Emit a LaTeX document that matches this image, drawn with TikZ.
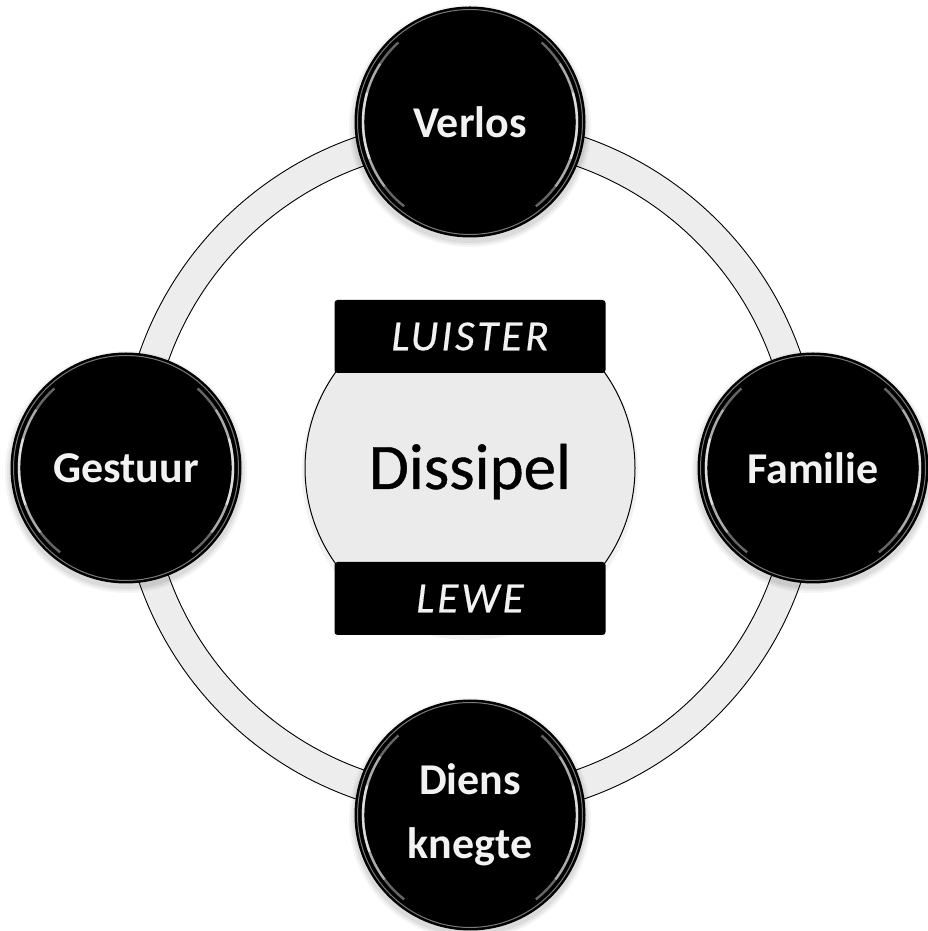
\documentclass[tikz,border=0pt]{standalone}
\usepackage{fontspec}
\setmainfont{Carlito}
\definecolor{textwhite}{HTML}{F2F2F2}
\definecolor{ringfill}{HTML}{EDEDED}
\definecolor{discfill}{HTML}{EBEBEB}
\definecolor{rimgray}{HTML}{7A7A7A}
\tikzset{
  ball/.style={circle, fill=black, draw=black, line width=1pt, minimum size=230pt,
    inner sep=0pt, text=textwhite, align=center,
    font=\bfseries\fontsize{44}{64}\selectfont},
  band/.style={rectangle, fill=black, rounded corners=3pt, minimum width=271pt,
    minimum height=73pt, inner sep=0pt, text=textwhite,
    font=\itshape\fontsize{43}{48}\selectfont\addfontfeature{LetterSpace=7,FakeBold=0.4}},
  ringline/.style={draw=black, line width=0.9pt},
  rim/.style={draw=rimgray, line width=1pt},
  shine/.style={draw=white, line width=2.4pt},
}
\newcommand{\ballshadow}[1]{%
  \foreach \k/\o in {6/0.04,4/0.05,2/0.06}{%
    \fill[black, opacity=\o] ([yshift=-4pt]#1) circle (115pt+\k pt);
  }%
}
\newcommand{\glossball}[1]{%
  \draw[rim] (#1.center) circle (112.5pt);
  \foreach \a/\o in {50/0.4,35/0.45,18/0.6}{%
    \draw[shine, opacity=\o] ([shift={(182-\a:107pt)}]#1.center)
      arc[start angle=182-\a, end angle=182+\a, radius=107pt];
    \draw[shine, opacity=\o] ([shift={(-2-\a:107pt)}]#1.center)
      arc[start angle=-2-\a, end angle=-2+\a, radius=107pt];
  }%
}
\begin{document}
\begin{tikzpicture}[x=1pt,y=1pt]
\useasboundingbox (0,0) rectangle (928,931);
\coordinate (C) at (470,463);
\coordinate (pV) at (470,809);
\coordinate (pG) at (126,463);
\coordinate (pF) at (813,463);
\coordinate (pD) at (470,116);
% ring
\path[fill=ringfill, even odd rule] (C) circle (350pt) (C) circle (320pt);
\draw[ringline] (C) circle (350pt);
\draw[ringline] (C) circle (320pt);
% central disc
\fill[black, opacity=0.05] ([yshift=-4pt]C) circle (168pt);
\node[circle, minimum size=330pt, inner sep=0pt, fill=discfill, draw=black, line width=1pt] (disc) at (C) {};
\node[font=\fontsize{65}{70}\selectfont\addfontfeature{FakeBold=0.6}, anchor=base] (dissipel) at (470,442) {Dissipel};
\node[band] (luister) at (470,594.5) {LUISTER};
\node[band] (lewe) at (470,332.5) {LEWE};
% outer balls
\ballshadow{pV}
\ballshadow{pG}
\ballshadow{pF}
\ballshadow{pD}
\node[ball] (verlos) at (pV) {Verlos};
\node[ball] (gestuur) at (pG) {Gestuur};
\node[ball] (familie) at (pF) {Familie};
\node[ball] (diens) at (pD) {Diens\\knegte};
\glossball{verlos}
\glossball{gestuur}
\glossball{familie}
\glossball{diens}
\end{tikzpicture}
\end{document}
